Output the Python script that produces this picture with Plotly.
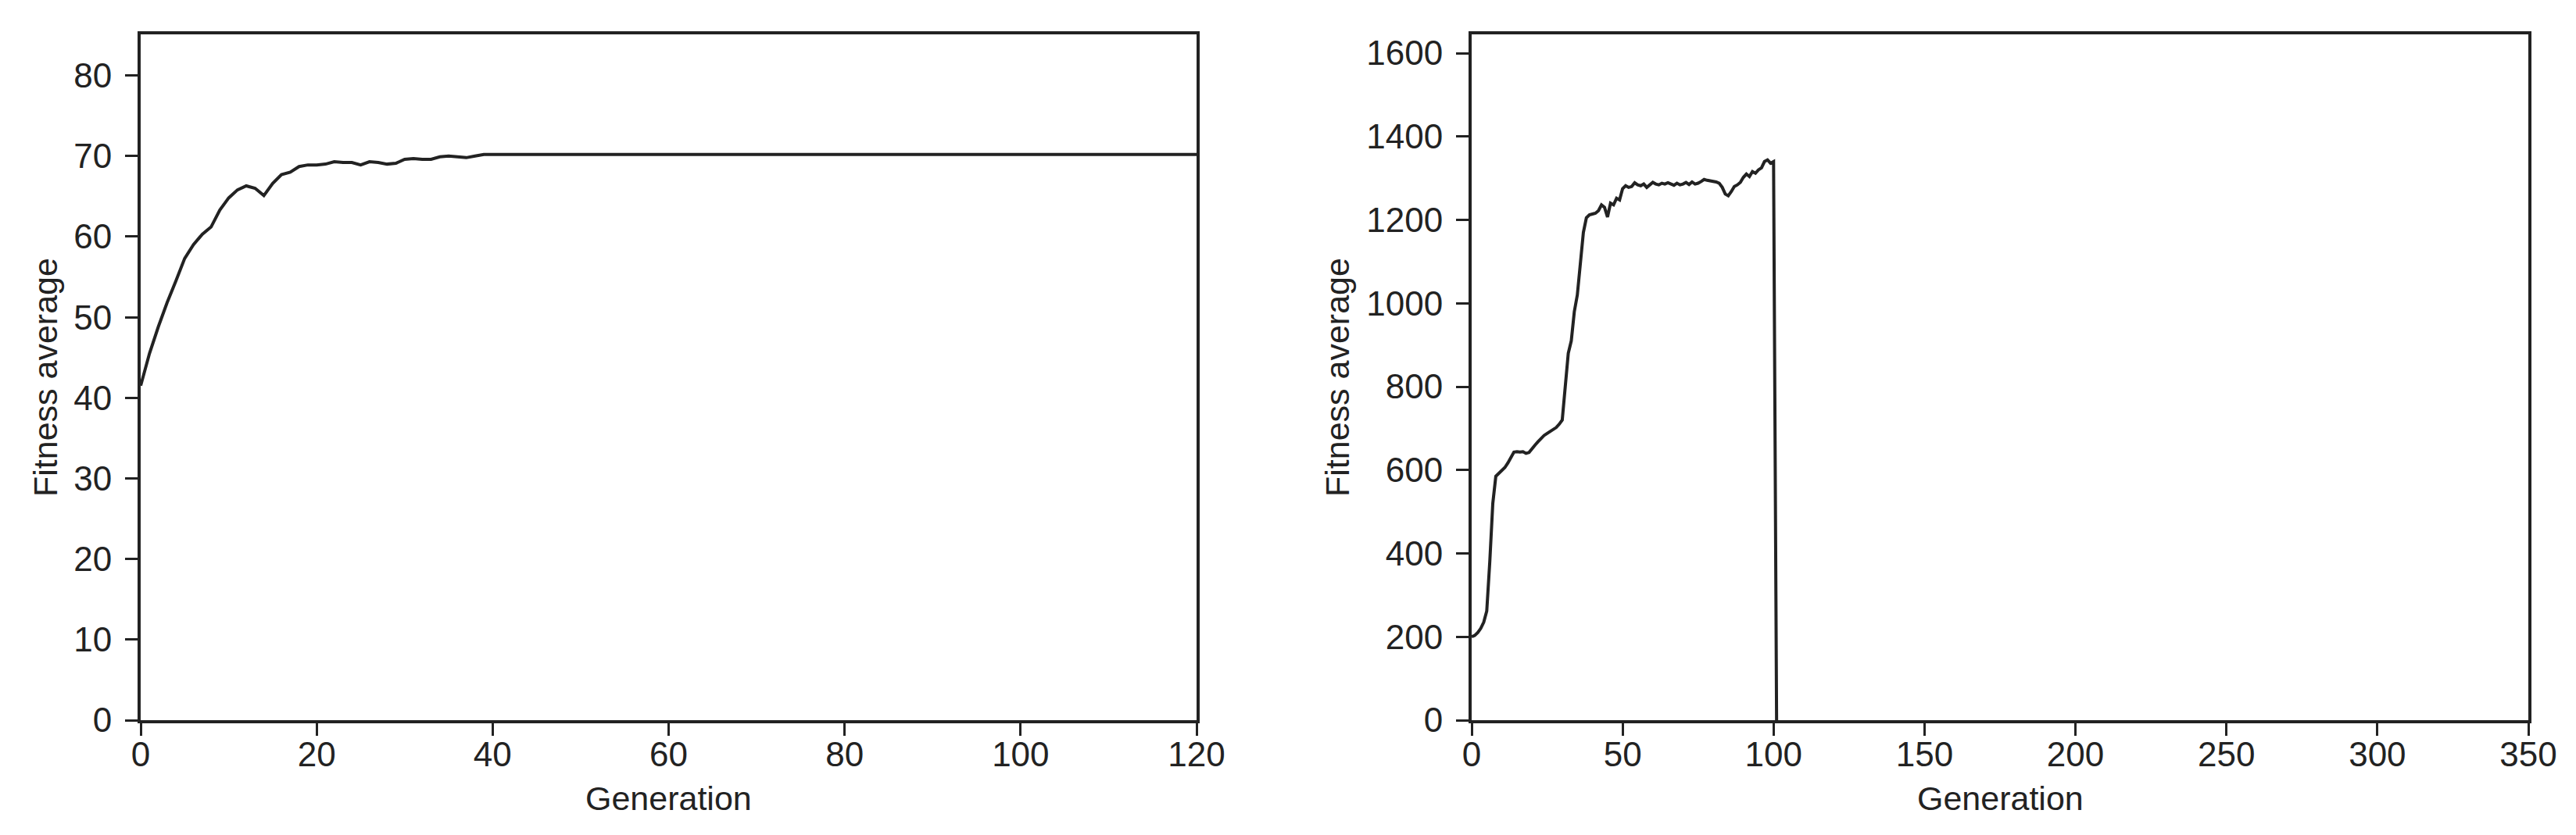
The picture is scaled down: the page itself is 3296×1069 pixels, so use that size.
import plotly.graph_objects as go

# run 1: average fitness per generation (stays flat after gen 40)
gen_a = list(range(0, 41)) + [120]
fit_a = [41.5, 45.5, 48.8, 51.8, 54.5, 57.3, 59.0, 60.3, 61.2, 63.3,
         64.8, 65.8, 66.3, 66.0, 65.1, 66.6, 67.7, 68.0, 68.7, 68.9,
         68.9, 69.0, 69.3, 69.2, 69.2, 68.9, 69.3, 69.2, 69.0, 69.1,
         69.6, 69.7, 69.6, 69.6, 69.9, 70.0, 69.9, 69.8, 70.0, 70.2,
         70.2, 70.2]

# run 2: average fitness per generation, drops to 0 after gen 100
gen_b = list(range(0, 102))
fit_b = [200, 203, 210, 220, 235, 262, 380, 520, 585, 592,
         598, 606, 617, 630, 643, 644, 643, 644, 640, 642,
         652, 660, 668, 676, 683, 688, 692, 697, 702, 710,
         720, 800, 880, 910, 980, 1020, 1090, 1170, 1205, 1212,
         1214, 1216, 1222, 1236, 1230, 1207, 1240, 1236, 1252, 1248,
         1275, 1282, 1278, 1280, 1289, 1284, 1282, 1286, 1278, 1284,
         1290, 1286, 1284, 1288, 1286, 1289, 1285, 1283, 1288, 1284,
         1286, 1290, 1285, 1291, 1286, 1288, 1292, 1297, 1295, 1294,
         1293, 1291, 1288, 1278, 1262, 1258, 1268, 1280, 1284, 1290,
         1302, 1310, 1304, 1316, 1312, 1320, 1325, 1340, 1344, 1336,
         1340, 0]

ticks_a_x = [0, 20, 40, 60, 80, 100, 120]
ticks_a_y = [0, 10, 20, 30, 40, 50, 60, 70, 80]
ticks_b_x = [0, 50, 100, 150, 200, 250, 300, 350]
ticks_b_y = [0, 200, 400, 600, 800, 1000, 1200, 1400, 1600]

# page body has an 8px margin, so the figure is a bit smaller than the window
OFF = 8
W, H = 3296 - 2 * OFF, 1069 - 2 * OFF


def px(x):
    return (x - OFF) / W


def py(y):
    return 1 - (y - OFF) / H


ink = "#222222"
tick_font = dict(family="Liberation Sans, Arial, sans-serif", size=44, color=ink)
title_font = dict(family="Liberation Sans, Arial, sans-serif", size=43, color=ink)

fig = go.Figure()
fig.add_trace(go.Scatter(x=gen_a, y=fit_a, mode="lines", xaxis="x", yaxis="y",
                         line=dict(color=ink, width=4), showlegend=False))
fig.add_trace(go.Scatter(x=gen_b, y=fit_b, mode="lines", xaxis="x2", yaxis="y2",
                         line=dict(color=ink, width=4), showlegend=False))

ydom = [py(922), py(44)]
axis_common = dict(showline=True, mirror=True, linecolor=ink, linewidth=4,
                   ticks="outside", ticklen=16, tickwidth=3, tickcolor=ink,
                   showgrid=False, zeroline=False, tickfont=tick_font,
                   automargin=False)

fig.update_layout(
    width=W, height=H,
    margin=dict(l=0, r=0, t=0, b=0, pad=0, autoexpand=False),
    paper_bgcolor="white", plot_bgcolor="white",
    xaxis=dict(domain=[px(180), px(1531)], range=[0, 120], tickvals=ticks_a_x,
               anchor="y", ticklabelstandoff=-14, **axis_common),
    yaxis=dict(domain=ydom, range=[0, 85.1], tickvals=ticks_a_y,
               anchor="x", ticklabelstandoff=8, **axis_common),
    xaxis2=dict(domain=[px(1883), px(3235)], range=[0, 350], tickvals=ticks_b_x,
                anchor="y2", ticklabelstandoff=-14, **axis_common),
    yaxis2=dict(domain=ydom, range=[0, 1645], tickvals=ticks_b_y,
                anchor="x2", ticklabelstandoff=8, **axis_common),
)

# axis titles placed as annotations
for xc in [(180 + 1531) / 2, (1883 + 3235) / 2]:
    fig.add_annotation(x=px(xc), y=py(1022), xref="paper", yref="paper", text="Generation",
                       showarrow=False, font=title_font, xanchor="center", yanchor="middle")
for xc in [58, 1711]:
    fig.add_annotation(x=px(xc), y=py(483), xref="paper", yref="paper", text="Fitness average",
                       textangle=-90, showarrow=False, font=title_font,
                       xanchor="center", yanchor="middle")

fig.write_html("out.html")
